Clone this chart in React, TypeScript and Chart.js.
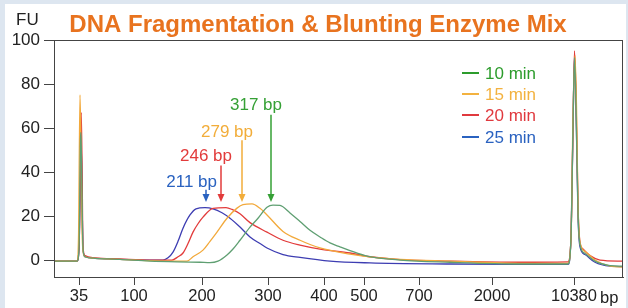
import React, { useEffect, useRef } from "react";
import { Chart, registerables } from "chart.js";

Chart.register(...registerables);

// x values are migration positions (arbitrary time units); ladder maps them to bp
const ladderTime = [7.9, 13.4, 20.2, 26.8, 32.4, 36.4, 41.9, 49.2, 57.4];
const ladderBp = ["35", "100", "200", "300", "400", "500", "700", "2000", "10380"];
const yTicks = [0, 20, 40, 60, 80, 100];

const seriesNames = ["10 min", "15 min", "20 min", "25 min"];

const green10: [number, number][] = [
  [5.4, -0.5], [7.7, -0.5], [7.9, 5], [8.05, 55], [8.1, 58], [8.2, 30], [8.3, 5], [8.5, 1.5],
  [9.5, 0.8], [12, 0.3], [15, -0.5], [20, -1], [21, -1.2], [21.8, -0.5], [22.7, 2.3], [23.3, 5],
  [24, 9], [25, 15], [25.8, 19], [26.7, 24], [27.3, 25], [28, 24.8], [29, 21.4], [30, 17.5],
  [31, 13.5], [32, 10.5], [33, 7.8], [34, 6], [35, 4.3], [36.7, 1.8], [40, 0], [45, -1],
  [52, -1.8], [56.8, -1.8], [57.1, 10], [57.3, 60], [57.45, 92], [57.6, 70], [57.8, 22],
  [58, 7], [58.5, 3], [59.5, -0.5], [61, -2.5], [62.3, -2.8],
];

const orange15: [number, number][] = [
  [5.4, -0.5], [7.7, -0.5], [7.85, 10], [8.0, 75], [8.1, 50], [8.2, 15], [8.3, 4], [8.5, 1.5],
  [9.5, 0.8], [12, 0.3], [15, -0.3], [17, -0.5], [18.7, -0.5], [19.3, 1.5], [20.3, 4.5],
  [21, 8.5], [21.7, 12.7], [22.7, 19], [23.7, 23.6], [24.3, 25.2], [25.2, 25.5], [26, 23.5],
  [26.7, 20.5], [28.3, 13], [30, 9], [32, 5.5], [35, 2.7], [37, 1.4], [40, 0.3], [45, -0.5],
  [52, -1.5], [56.8, -1.5], [57.1, 10], [57.3, 65], [57.5, 93], [57.65, 70], [57.8, 25],
  [58, 8], [58.5, 4], [59.5, 0], [61, -2.8], [62.3, -3.2],
];

const red20: [number, number][] = [
  [5.4, -0.5], [7.7, -0.5], [7.9, 5], [8.05, 45], [8.12, 67], [8.2, 45], [8.3, 6], [8.5, 2],
  [9.5, 1], [12, 0.5], [15, 0], [17.2, 0], [17.8, 1.5], [18.3, 3.2], [18.8, 7.5], [19.3, 12.7],
  [19.8, 16.5], [20.3, 19.5], [21.3, 23.5], [22.6, 23.8], [23.2, 23], [24, 21], [25, 17],
  [26.7, 12.7], [28.3, 9], [30, 6.8], [32, 5], [35, 3.2], [37, 1.5], [40, 0.2], [45, -0.5],
  [52, -1], [56.8, -0.8], [57.1, 10], [57.3, 60], [57.45, 95], [57.6, 75], [57.8, 25],
  [58, 8], [58.3, 5], [59, 2], [60, 0], [62.3, -0.5],
];

const blue25: [number, number][] = [
  [5.4, -0.5], [7.7, -0.5], [7.9, 5], [8.05, 40], [8.13, 52], [8.2, 30], [8.3, 5], [8.5, 1.5],
  [9.5, 0.8], [12, 0.3], [15, 0], [16.3, 0], [16.8, 1], [17.3, 3.6], [17.8, 8.5], [18.3, 14.5],
  [19, 20.5], [19.6, 23.3], [20.5, 23.8], [21.3, 23.3], [22.2, 21.5], [23, 19], [24, 15],
  [25, 10.5], [26, 7.5], [26.7, 5.5], [28.3, 2.5], [30, 1.2], [33, -0.5], [37, -1.3],
  [45, -1.8], [52, -2], [56.8, -2], [57.1, 10], [57.3, 60], [57.45, 93], [57.6, 70],
  [57.8, 20], [58, 6], [58.5, 2.5], [59.5, -1], [61, -2.8], [62.3, -3],
];

const lineColors = ["#5f9f72", "#f2a93b", "#e23b3b", "#3d3db2"];
const legendColors = ["#2c9c2c", "#f3b23f", "#e0393e", "#2a62c0"];

// peak annotations: label, x position, text height (FU), arrow start (FU), arrow tip (FU)
const annLabels = ["317 bp", "279 bp", "246 bp", "211 bp"];
const annX = [27.1, 24.2, 22.1, 20.6];
const annTextY = [70.5, 58, 47, 35.5];
const annStartY = [66, 54.5, 43, 32];
const annTipY = [26.4, 26.4, 26.4, 26.4];
const annColors = ["#35a035", "#f2ad3a", "#e23b3b", "#2a62c0"];

const FONT = "'Liberation Sans', Arial, sans-serif";

export default function App() {
  const ref = useRef<HTMLCanvasElement | null>(null);

  useEffect(() => {
    document.body.style.margin = "0";
    const canvas = ref.current;
    if (!canvas) return;

    const decor = {
      id: "decor",
      beforeDraw(chart: any) {
        const ctx = chart.ctx;
        ctx.save();
        ctx.fillStyle = "#dde6f0";
        ctx.fillRect(0, 0, chart.width, chart.height);
        ctx.fillStyle = "#ffffff";
        ctx.fillRect(5, 4, 621, chart.height - 4);
        ctx.restore();
      },
      afterDatasetsDraw(chart: any) {
        const ctx = chart.ctx;
        const xs = chart.scales.x;
        const ys = chart.scales.y;
        const a = chart.chartArea;
        ctx.save();
        ctx.strokeStyle = "#444";
        ctx.lineWidth = 1;
        ctx.strokeRect(a.left + 0.5, a.top + 0.5, a.right - a.left - 1, a.bottom - a.top);
        // annotations
        ctx.font = `17px ${FONT}`;
        ctx.textAlign = "center";
        ctx.textBaseline = "middle";
        for (let i = 0; i < annLabels.length; i++) {
          const px = xs.getPixelForValue(annX[i]);
          const ty = ys.getPixelForValue(annTextY[i]);
          const sy = ys.getPixelForValue(annStartY[i]);
          const tip = ys.getPixelForValue(annTipY[i]);
          ctx.fillStyle = annColors[i];
          ctx.strokeStyle = annColors[i];
          const w = ctx.measureText(annLabels[i]).width;
          ctx.fillText(annLabels[i], px - w / 2 + 11, ty);
          ctx.lineWidth = 1.5;
          ctx.beginPath();
          ctx.moveTo(px, sy);
          ctx.lineTo(px, tip - 6);
          ctx.stroke();
          ctx.beginPath();
          ctx.moveTo(px - 3.5, tip - 8);
          ctx.lineTo(px + 3.5, tip - 8);
          ctx.lineTo(px, tip);
          ctx.closePath();
          ctx.fill();
        }
        // legend
        const ly = [73, 94, 115, 137];
        ctx.textAlign = "left";
        for (let i = 0; i < seriesNames.length; i++) {
          ctx.strokeStyle = legendColors[i];
          ctx.fillStyle = legendColors[i];
          ctx.lineWidth = 2;
          ctx.beginPath();
          ctx.moveTo(462, ly[i]);
          ctx.lineTo(479, ly[i]);
          ctx.stroke();
          ctx.fillText(seriesNames[i], 485, ly[i] + 1);
        }
        ctx.restore();
      },
      afterDraw(chart: any) {
        const ctx = chart.ctx;
        ctx.save();
        ctx.textBaseline = "alphabetic";
        ctx.textAlign = "center";
        ctx.fillStyle = "#e8731f";
        ctx.font = `bold 24px ${FONT}`;
        ctx.fillText("DNA Fragmentation & Blunting Enzyme Mix", 318, 32);
        ctx.fillStyle = "#222";
        ctx.font = `17px ${FONT}`;
        ctx.textAlign = "left";
        ctx.fillText("FU", 16, 25);
        ctx.font = `16.5px ${FONT}`;
        ctx.textBaseline = "middle";
        ctx.fillText("bp", 600, 298);
        ctx.restore();
      },
    };

    const mk = (pts: [number, number][], i: number) => ({
      label: seriesNames[i],
      data: pts.map(([x, y]) => ({ x, y })),
      borderColor: lineColors[i],
      backgroundColor: lineColors[i],
      borderWidth: 1.3,
      pointRadius: 0,
      cubicInterpolationMode: "monotone" as const,
      fill: false,
    });

    const chart = new Chart(canvas, {
      type: "line",
      data: {
        datasets: [mk(green10, 0), mk(orange15, 1), mk(red20, 2), mk(blue25, 3)],
      },
      options: {
        animation: false,
        responsive: false,
        layout: { padding: { top: 40, right: 5, left: 0, bottom: 0 } },
        plugins: { legend: { display: false }, title: { display: false }, tooltip: { enabled: false } },
        scales: {
          x: {
            type: "linear",
            min: 5.4,
            max: 62.3,
            afterBuildTicks: (s: any) => {
              s.ticks = ladderTime.map((v) => ({ value: v }));
            },
            afterFit: (s: any) => {
              s.height = 31;
            },
            ticks: {
              autoSkip: false,
              maxRotation: 0,
              padding: 2,
              color: "#222",
              font: { size: 16.5, family: FONT },
              callback: (v: any) => {
                const idx = ladderTime.indexOf(Number(v));
                return idx >= 0 ? ladderBp[idx] : "";
              },
            },
            grid: { drawOnChartArea: false, drawTicks: true, tickLength: 8, color: "#444" },
            border: { display: true, color: "#444" },
          },
          y: {
            type: "linear",
            min: -7.7,
            max: 100,
            afterBuildTicks: (s: any) => {
              s.ticks = yTicks.map((v) => ({ value: v }));
            },
            afterFit: (s: any) => {
              s.width = 54;
            },
            ticks: {
              padding: 4,
              color: "#222",
              font: { size: 17, family: FONT },
            },
            grid: { drawOnChartArea: false, drawTicks: true, tickLength: 10, color: "#444" },
            border: { display: true, color: "#444" },
          },
        },
      },
      plugins: [decor],
    });

    return () => chart.destroy();
  }, []);

  return <canvas ref={ref} width={628} height={308} style={{ display: "block" }} />;
}
